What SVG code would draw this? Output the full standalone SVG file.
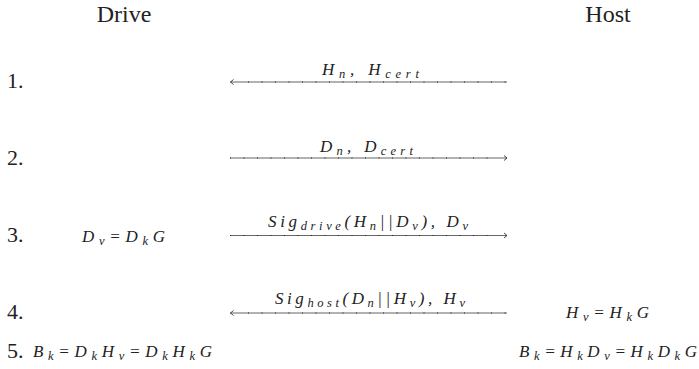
<svg xmlns="http://www.w3.org/2000/svg" width="699" height="369" viewBox="0 0 699 369">
<style>
.t{font-size:22px;fill:#222}
.h{font-size:24px;fill:#222}
.m{font-style:italic;font-size:17px;fill:#222}
.s{font-size:12.5px}
.ln{stroke:#666;stroke-width:1.2;fill:none}
.dt{stroke:#222;stroke-width:1.2;stroke-dasharray:1 12.5;fill:none}
.ah{stroke:#333;stroke-width:0.9;fill:none}
</style>
<rect width="699" height="369" fill="#fff"/>
<g id="drive"><text class="h" style="font-family:'Liberation Serif',serif" x="124" y="22" text-anchor="middle">Drive</text></g>
<g id="host"><text class="h" style="font-family:'Liberation Serif',serif" x="608" y="22" text-anchor="middle">Host</text></g>
<g id="steps">
<text class="t" style="font-family:'Liberation Serif',serif" x="7" y="88">1.</text>
<text class="t" style="font-family:'Liberation Serif',serif" x="7" y="165">2.</text>
<text class="t" style="font-family:'Liberation Serif',serif" x="7" y="242">3.</text>
<text class="t" style="font-family:'Liberation Serif',serif" x="7" y="319">4.</text>
<text class="t" style="font-family:'Liberation Serif',serif" x="7" y="358">5.</text>
</g>
<g id="drive-calc">
<text class="m" style="font-family:'Liberation Serif',serif" x="82" y="242" textLength="83" lengthAdjust="spacing">D<tspan class="s" dy="3">v</tspan><tspan dy="-3">=D</tspan><tspan class="s" dy="3">k</tspan><tspan dy="-3">G</tspan></text>
<text class="m" style="font-family:'Liberation Serif',serif" x="33" y="357" textLength="179" lengthAdjust="spacing">B<tspan class="s" dy="3">k</tspan><tspan dy="-3">=D</tspan><tspan class="s" dy="3">k</tspan><tspan dy="-3">H</tspan><tspan class="s" dy="3">v</tspan><tspan dy="-3">=D</tspan><tspan class="s" dy="3">k</tspan><tspan dy="-3">H</tspan><tspan class="s" dy="3">k</tspan><tspan dy="-3">G</tspan></text>
</g>
<g id="host-calc">
<text class="m" style="font-family:'Liberation Serif',serif" x="566" y="318" textLength="83" lengthAdjust="spacing">H<tspan class="s" dy="3">v</tspan><tspan dy="-3">=H</tspan><tspan class="s" dy="3">k</tspan><tspan dy="-3">G</tspan></text>
<text class="m" style="font-family:'Liberation Serif',serif" x="519" y="357" textLength="178" lengthAdjust="spacing">B<tspan class="s" dy="3">k</tspan><tspan dy="-3">=H</tspan><tspan class="s" dy="3">k</tspan><tspan dy="-3">D</tspan><tspan class="s" dy="3">v</tspan><tspan dy="-3">=H</tspan><tspan class="s" dy="3">k</tspan><tspan dy="-3">D</tspan><tspan class="s" dy="3">k</tspan><tspan dy="-3">G</tspan></text>
</g>
<g id="connectors">
<line class="ln" x1="230" y1="82" x2="507" y2="82"/>
<line class="dt" x1="248" y1="82" x2="507" y2="82"/>
<path class="ah" d="M233.5,79.5 L230.5,82 L233.5,84.5"/>
<line class="ln" x1="230" y1="158" x2="507" y2="158"/>
<line class="dt" x1="230" y1="158" x2="492" y2="158"/>
<path class="ah" d="M504,155.5 L507,158 L504,160.5"/>
<line class="ln" x1="230" y1="235.5" x2="507" y2="235.5"/>
<line class="dt" x1="230" y1="235.5" x2="492" y2="235.5"/>
<path class="ah" d="M504,233 L507,235.5 L504,238"/>
<line class="ln" x1="230" y1="313" x2="507" y2="313"/>
<line class="dt" x1="248" y1="313" x2="507" y2="313"/>
<path class="ah" d="M233.5,310.5 L230.5,313 L233.5,315.5"/>
</g>
<g id="labels">
<text class="m" style="font-family:'Liberation Serif',serif" x="322" y="75" textLength="97" lengthAdjust="spacing">H<tspan class="s" dy="3">n</tspan><tspan dy="-3">, H</tspan><tspan class="s" dy="3">cert</tspan></text>
<text class="m" style="font-family:'Liberation Serif',serif" x="320" y="152" textLength="93" lengthAdjust="spacing">D<tspan class="s" dy="3">n</tspan><tspan dy="-3">, D</tspan><tspan class="s" dy="3">cert</tspan></text>
<text class="m" style="font-family:'Liberation Serif',serif" x="268" y="227" textLength="200" lengthAdjust="spacing">Sig<tspan class="s" dy="3">drive</tspan><tspan dy="-3">(H</tspan><tspan class="s" dy="3">n</tspan><tspan dy="-3">||D</tspan><tspan class="s" dy="3">v</tspan><tspan dy="-3">), D</tspan><tspan class="s" dy="3">v</tspan></text>
<text class="m" style="font-family:'Liberation Serif',serif" x="275" y="304" textLength="190" lengthAdjust="spacing">Sig<tspan class="s" dy="3">host</tspan><tspan dy="-3">(D</tspan><tspan class="s" dy="3">n</tspan><tspan dy="-3">||H</tspan><tspan class="s" dy="3">v</tspan><tspan dy="-3">), H</tspan><tspan class="s" dy="3">v</tspan></text>
</g>
</svg>
